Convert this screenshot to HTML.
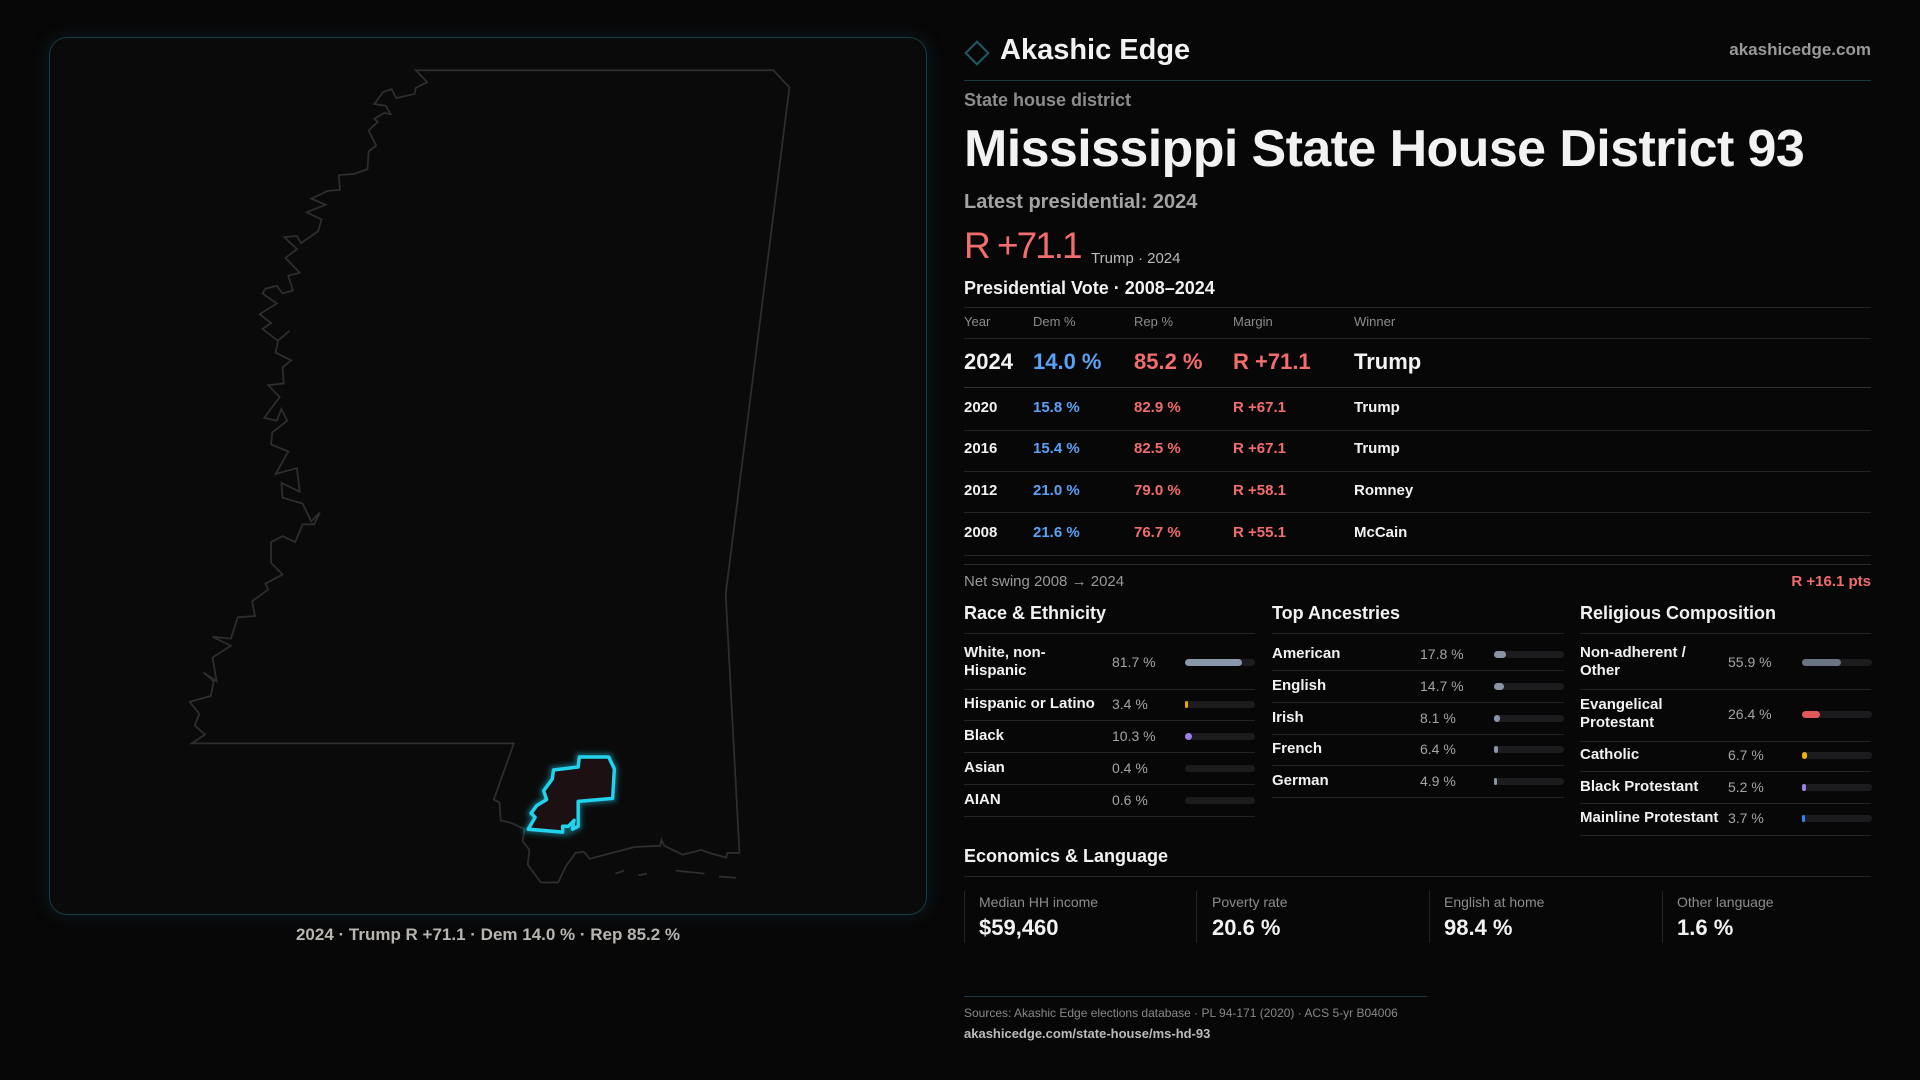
<!DOCTYPE html>
<html><head><meta charset="utf-8"><style>
*{margin:0;padding:0;box-sizing:border-box}
body{width:1920px;height:1080px;background:#080708;font-family:"Liberation Sans",sans-serif;color:#f2f2f2;position:relative;overflow:hidden}
.a{position:absolute;white-space:nowrap}
.hl{position:absolute;height:1px;background:#232325}
.g{color:#8c8c8c}
.r{color:#f26d6d}
.b{color:#5aa2f5}
.bar{position:absolute;height:7px;width:70px;border-radius:4px;background:#1c1c1e}
.bar i{position:absolute;left:0;top:0;height:7px;border-radius:4px}
.row{font-size:15px;font-weight:bold;line-height:18px}
.val{font-size:14px;color:#a5a5a5;line-height:18px}
</style></head><body>
<div class="a" style="left:49px;top:37px;width:878px;height:878px;border:1px solid #163c44;border-radius:18px;background:#0b0a0b;box-shadow:0 0 18px rgba(20,90,100,0.25)"></div>
<svg class="a" style="left:0;top:0" width="960" height="1080">
<defs><filter id="gl" x="-50%" y="-50%" width="200%" height="200%"><feGaussianBlur stdDeviation="4"/></filter></defs>
<g transform="translate(30,30) scale(0.574,0.592)">
<path d="M672,68 L1295,68 L1323,97 L1212,953 L1236,1390 L1215,1390 L1213,1398 L1183,1390 L1170,1385 L1137,1393 L1105,1378 L1100,1368 L1098,1378 L1053,1380 L975,1400 L965,1388 L950,1390 L945,1398 L935,1410 L920,1440 L890,1440 L867,1410 L870,1385 L858,1370 L862,1350 L840,1340 L820,1335 L818,1305 L808,1300 L843,1205 L282,1205 L305,1190 L287,1175 L295,1155 L278,1135 L315,1125 L320,1100 L302,1085 L325,1100 L318,1060 L350,1040 L318,1025 L350,1028 L362,992 L392,990 L387,965 L415,945 L410,935 L440,920 L420,900 L420,865 L440,855 L462,865 L475,835 L495,835 L505,815 L490,830 L475,800 L440,790 L438,765 L470,780 L465,740 L428,750 L450,712 L420,700 L422,680 L448,660 L438,640 L430,660 L408,655 L435,620 L415,600 L442,597 L440,570 L455,558 L428,545 L432,525 L452,508 L432,525 L405,505 L420,495 L400,480 L430,462 L405,445 L410,437 L430,432 L440,445 L458,440 L450,415 L470,410 L445,385 L465,370 L443,350 L465,348 L472,360 L502,340 L508,320 L482,308 L515,295 L490,285 L518,272 L540,270 L538,245 L565,243 L588,235 L590,205 L603,195 L590,170 L606,155 L600,150 L617,140 L628,142 L620,128 L600,125 L615,105 L630,100 L638,115 L670,108 L672,98 L692,88 Z" fill="none" stroke="#2e2e30" stroke-width="3"/>
<path d="M1020,1425 L1035,1420 M1060,1428 L1075,1425 M1125,1420 L1175,1425 M1200,1430 L1230,1432" stroke="#2e2e30" stroke-width="3"/>
<path d="M957,1228 L1008,1228 L1018,1248 L1015,1298 L955,1303 L955,1345 L945,1350 L948,1335 L938,1345 L928,1345 L928,1355 L868,1350 L880,1330 L873,1323 L883,1310 L900,1300 L895,1285 L910,1265 L912,1250 L955,1245 Z" fill="#1d1012" stroke="#22d3ee" stroke-width="14" stroke-opacity="0.35" filter="url(#gl)"/>
<path d="M957,1228 L1008,1228 L1018,1248 L1015,1298 L955,1303 L955,1345 L945,1350 L948,1335 L938,1345 L928,1345 L928,1355 L868,1350 L880,1330 L873,1323 L883,1310 L900,1300 L895,1285 L910,1265 L912,1250 L955,1245 Z" fill="#1d1012" stroke="#22d3ee" stroke-width="6" stroke-linejoin="round"/>
</g></svg>
<div class="a" style="left:0;width:976px;text-align:center;top:925px;font-size:17px;font-weight:bold;color:#b8b4b0;line-height:20px">2024 · Trump R +71.1 · Dem 14.0 % · Rep 85.2 %</div>

<div class="a" style="left:968px;top:44px;width:18px;height:18px;border:2px solid #1e5a62;transform:rotate(45deg)"></div>
<div class="a" style="left:1000px;top:33px;font-size:29px;font-weight:bold;line-height:34px">Akashic Edge</div>
<div class="a g" style="right:49px;top:40px;font-size:17px;font-weight:bold;line-height:20px;color:#999">akashicedge.com</div>
<div class="hl" style="left:964px;width:907px;top:80px;background:#1b3a40"></div>
<div class="a g" style="left:964px;top:90px;font-size:18px;font-weight:bold;line-height:20px">State house district</div>
<div class="a" style="left:964px;top:119px;font-size:52px;font-weight:bold;letter-spacing:-0.6px;line-height:60px">Mississippi State House District 93</div>
<div class="a" style="left:964px;top:191px;font-size:20px;font-weight:bold;line-height:22px;color:#a3a3a3">Latest presidential: 2024</div>
<div class="a r" style="left:964px;top:224px;font-size:37px;letter-spacing:-2px;line-height:44px">R +71.1</div>
<div class="a" style="left:1091px;top:250px;font-size:15px;line-height:18px;color:#bbb">Trump · 2024</div>
<div class="a" style="left:964px;top:278px;font-size:18px;font-weight:bold;line-height:20px">Presidential Vote · 2008–2024</div>
<div class="hl" style="left:964px;width:907px;top:307px"></div>
<div class="a g" style="left:964px;top:314px;font-size:13px;line-height:16px">Year</div>
<div class="a g" style="left:1033px;top:314px;font-size:13px;line-height:16px">Dem %</div>
<div class="a g" style="left:1134px;top:314px;font-size:13px;line-height:16px">Rep %</div>
<div class="a g" style="left:1233px;top:314px;font-size:13px;line-height:16px">Margin</div>
<div class="a g" style="left:1354px;top:314px;font-size:13px;line-height:16px">Winner</div>
<div class="hl" style="left:964px;width:907px;top:338px"></div>
<div class="a" style="left:964px;top:349px;font-size:22px;font-weight:bold;line-height:26px">2024</div>
<div class="a b" style="left:1033px;top:349px;font-size:22px;font-weight:bold;line-height:26px">14.0 %</div>
<div class="a r" style="left:1134px;top:349px;font-size:22px;font-weight:bold;line-height:26px">85.2 %</div>
<div class="a r" style="left:1233px;top:349px;font-size:22px;font-weight:bold;line-height:26px">R +71.1</div>
<div class="a" style="left:1354px;top:349px;font-size:22px;font-weight:bold;line-height:26px">Trump</div>
<div class="hl" style="left:964px;width:907px;top:387px;background:#333"></div>
<div class="a row" style="left:964px;top:399px">2020</div><div class="a row b" style="left:1033px;top:399px">15.8 %</div><div class="a row r" style="left:1134px;top:399px">82.9 %</div><div class="a row r" style="left:1233px;top:399px">R +67.1</div><div class="a row" style="left:1354px;top:399px">Trump</div>
<div class="hl" style="left:964px;width:907px;top:430px"></div>
<div class="a row" style="left:964px;top:440px">2016</div><div class="a row b" style="left:1033px;top:440px">15.4 %</div><div class="a row r" style="left:1134px;top:440px">82.5 %</div><div class="a row r" style="left:1233px;top:440px">R +67.1</div><div class="a row" style="left:1354px;top:440px">Trump</div>
<div class="hl" style="left:964px;width:907px;top:471px"></div>
<div class="a row" style="left:964px;top:482px">2012</div><div class="a row b" style="left:1033px;top:482px">21.0 %</div><div class="a row r" style="left:1134px;top:482px">79.0 %</div><div class="a row r" style="left:1233px;top:482px">R +58.1</div><div class="a row" style="left:1354px;top:482px">Romney</div>
<div class="hl" style="left:964px;width:907px;top:512px"></div>
<div class="a row" style="left:964px;top:524px">2008</div><div class="a row b" style="left:1033px;top:524px">21.6 %</div><div class="a row r" style="left:1134px;top:524px">76.7 %</div><div class="a row r" style="left:1233px;top:524px">R +55.1</div><div class="a row" style="left:1354px;top:524px">McCain</div>
<div class="hl" style="left:964px;width:907px;top:555px"></div>
<div class="hl" style="left:964px;width:907px;top:564px;background:#2a2a2c"></div>
<div class="a" style="left:964px;top:573px;font-size:15px;line-height:18px;color:#999">Net swing 2008 → 2024</div>
<div class="a r" style="right:49px;top:573px;font-size:15px;font-weight:bold;line-height:18px">R +16.1 pts</div>

<div class="a" style="left:964px;top:603px;font-size:18px;font-weight:bold;line-height:20px">Race &amp; Ethnicity</div>
<div class="a" style="left:1272px;top:603px;font-size:18px;font-weight:bold;line-height:20px">Top Ancestries</div>
<div class="a" style="left:1580px;top:603px;font-size:18px;font-weight:bold;line-height:20px">Religious Composition</div>
<div class="hl" style="left:964px;width:291px;top:633px"></div>
<div class="hl" style="left:1272px;width:292px;top:633px"></div>
<div class="hl" style="left:1580px;width:291px;top:633px"></div>

<div class="a row" style="left:964px;top:644px">White, non-<br>Hispanic</div><div class="a val" style="left:1112px;top:653px">81.7 %</div><div class="bar" style="left:1185px;top:659px"><i style="width:57px;background:#8a97aa"></i></div>
<div class="hl" style="left:964px;width:291px;top:689px"></div>
<div class="a row" style="left:964px;top:695px">Hispanic or Latino</div><div class="a val" style="left:1112px;top:695px">3.4 %</div><div class="bar" style="left:1185px;top:701px"><i style="width:3px;background:#f59e0b"></i></div>
<div class="hl" style="left:964px;width:291px;top:720px"></div>
<div class="a row" style="left:964px;top:727px">Black</div><div class="a val" style="left:1112px;top:727px">10.3 %</div><div class="bar" style="left:1185px;top:733px"><i style="width:7px;background:#9b7fe6"></i></div>
<div class="hl" style="left:964px;width:291px;top:752px"></div>
<div class="a row" style="left:964px;top:759px">Asian</div><div class="a val" style="left:1112px;top:759px">0.4 %</div><div class="bar" style="left:1185px;top:765px"></div>
<div class="hl" style="left:964px;width:291px;top:784px"></div>
<div class="a row" style="left:964px;top:791px">AIAN</div><div class="a val" style="left:1112px;top:791px">0.6 %</div><div class="bar" style="left:1185px;top:797px"></div>
<div class="hl" style="left:964px;width:291px;top:816px"></div>

<div class="a row" style="left:1272px;top:645px">American</div><div class="a val" style="left:1420px;top:645px">17.8 %</div><div class="bar" style="left:1494px;top:651px"><i style="width:12px;background:#8a94a6"></i></div>
<div class="hl" style="left:1272px;width:292px;top:670px"></div>
<div class="a row" style="left:1272px;top:677px">English</div><div class="a val" style="left:1420px;top:677px">14.7 %</div><div class="bar" style="left:1494px;top:683px"><i style="width:10px;background:#8a94a6"></i></div>
<div class="hl" style="left:1272px;width:292px;top:702px"></div>
<div class="a row" style="left:1272px;top:709px">Irish</div><div class="a val" style="left:1420px;top:709px">8.1 %</div><div class="bar" style="left:1494px;top:715px"><i style="width:6px;background:#8a94a6"></i></div>
<div class="hl" style="left:1272px;width:292px;top:734px"></div>
<div class="a row" style="left:1272px;top:740px">French</div><div class="a val" style="left:1420px;top:740px">6.4 %</div><div class="bar" style="left:1494px;top:746px"><i style="width:4px;background:#8a94a6"></i></div>
<div class="hl" style="left:1272px;width:292px;top:765px"></div>
<div class="a row" style="left:1272px;top:772px">German</div><div class="a val" style="left:1420px;top:772px">4.9 %</div><div class="bar" style="left:1494px;top:778px"><i style="width:3px;background:#8a94a6"></i></div>
<div class="hl" style="left:1272px;width:292px;top:797px"></div>

<div class="a row" style="left:1580px;top:644px">Non-adherent /<br>Other</div><div class="a val" style="left:1728px;top:653px">55.9 %</div><div class="bar" style="left:1802px;top:659px"><i style="width:39px;background:#6b7280"></i></div>
<div class="hl" style="left:1580px;width:291px;top:689px"></div>
<div class="a row" style="left:1580px;top:696px">Evangelical<br>Protestant</div><div class="a val" style="left:1728px;top:705px">26.4 %</div><div class="bar" style="left:1802px;top:711px"><i style="width:18px;background:#e05a5a"></i></div>
<div class="hl" style="left:1580px;width:291px;top:741px"></div>
<div class="a row" style="left:1580px;top:746px">Catholic</div><div class="a val" style="left:1728px;top:746px">6.7 %</div><div class="bar" style="left:1802px;top:752px"><i style="width:5px;background:#eab308"></i></div>
<div class="hl" style="left:1580px;width:291px;top:771px"></div>
<div class="a row" style="left:1580px;top:778px">Black Protestant</div><div class="a val" style="left:1728px;top:778px">5.2 %</div><div class="bar" style="left:1802px;top:784px"><i style="width:4px;background:#9b7fe6"></i></div>
<div class="hl" style="left:1580px;width:291px;top:803px"></div>
<div class="a row" style="left:1580px;top:809px">Mainline Protestant</div><div class="a val" style="left:1728px;top:809px">3.7 %</div><div class="bar" style="left:1802px;top:815px"><i style="width:3px;background:#3b82f6"></i></div>
<div class="hl" style="left:1580px;width:291px;top:835px"></div>

<div class="a" style="left:964px;top:846px;font-size:18px;font-weight:bold;line-height:20px">Economics &amp; Language</div>
<div class="hl" style="left:964px;width:907px;top:876px"></div>
<div class="a" style="left:964px;top:891px;width:1px;height:52px;background:#232325"></div>
<div class="a" style="left:1196px;top:891px;width:1px;height:52px;background:#232325"></div>
<div class="a" style="left:1429px;top:891px;width:1px;height:52px;background:#232325"></div>
<div class="a" style="left:1662px;top:891px;width:1px;height:52px;background:#232325"></div>
<div class="a g" style="left:979px;top:894px;font-size:14px;line-height:16px">Median HH income</div>
<div class="a g" style="left:1212px;top:894px;font-size:14px;line-height:16px">Poverty rate</div>
<div class="a g" style="left:1444px;top:894px;font-size:14px;line-height:16px">English at home</div>
<div class="a g" style="left:1677px;top:894px;font-size:14px;line-height:16px">Other language</div>
<div class="a" style="left:979px;top:915px;font-size:22px;font-weight:bold;line-height:26px">$59,460</div>
<div class="a" style="left:1212px;top:915px;font-size:22px;font-weight:bold;line-height:26px">20.6 %</div>
<div class="a" style="left:1444px;top:915px;font-size:22px;font-weight:bold;line-height:26px">98.4 %</div>
<div class="a" style="left:1677px;top:915px;font-size:22px;font-weight:bold;line-height:26px">1.6 %</div>

<div class="hl" style="left:964px;width:463px;top:996px;background:#1b3a40"></div>
<div class="a" style="left:964px;top:1006px;font-size:12px;line-height:14px;color:#888">Sources: Akashic Edge elections database · PL 94-171 (2020) · ACS 5-yr B04006</div>
<div class="a" style="left:964px;top:1026px;font-size:13px;font-weight:bold;line-height:16px;color:#bbb">akashicedge.com/state-house/ms-hd-93</div>
</body></html>
